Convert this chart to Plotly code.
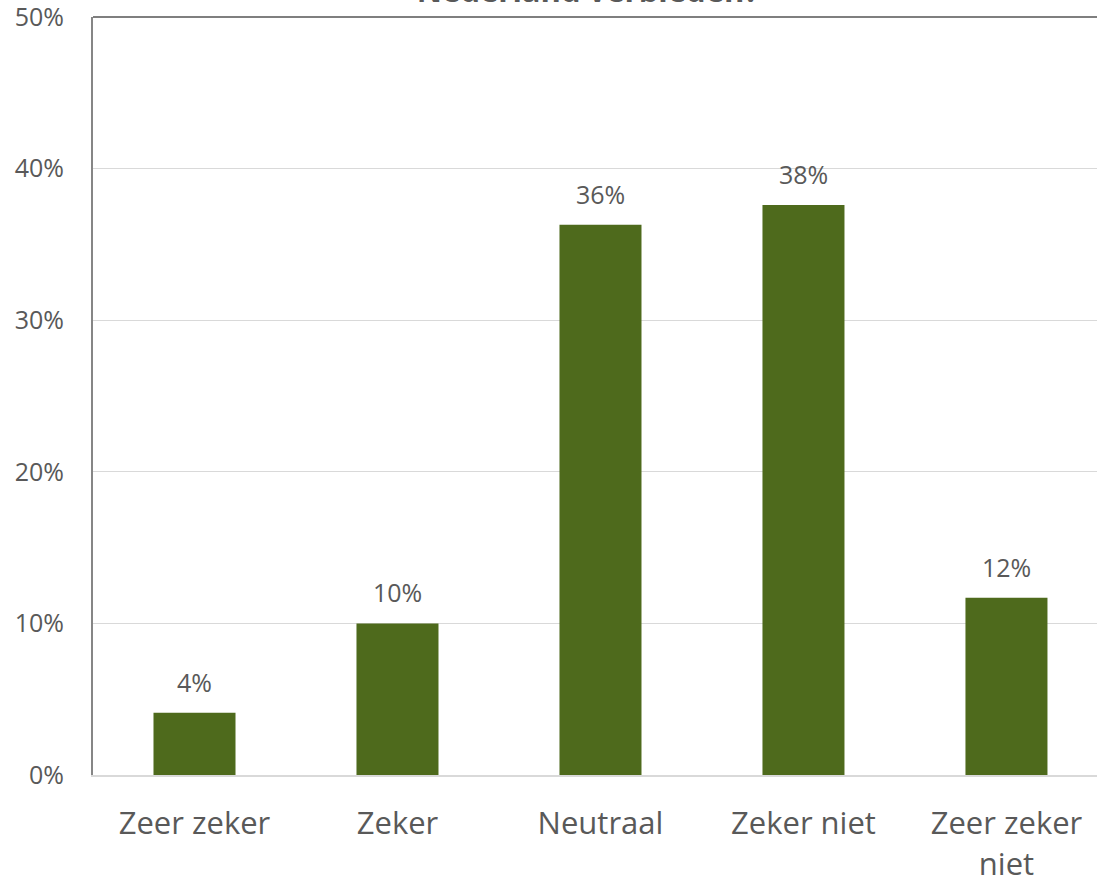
import plotly.graph_objects as go

categories = ["Zeer zeker", "Zeker", "Neutraal", "Zeker niet", "Zeer zeker<br>niet"]
shares = [0.041, 0.100, 0.363, 0.376, 0.117]
labels = ["4%", "10%", "36%", "38%", "12%"]
tick_vals = [0, 0.1, 0.2, 0.3, 0.4, 0.5]
tick_text = ["0%", "10%", "20%", "30%", "40%", "50%"]
title_text = "Nederland verbieden?"

FONT = "Open Sans"
GREY = "#595959"

fig = go.Figure()
fig.add_trace(go.Bar(
    x=list(range(len(categories))), y=shares,
    marker=dict(color="#4e6a1c", line=dict(width=0)),
    width=0.404,
))

# value labels above the bars
for i, (v, lab) in enumerate(zip(shares, labels)):
    fig.add_annotation(x=i, y=v, text=lab, showarrow=False,
                       yanchor="bottom", yshift=12,
                       font=dict(family=FONT, size=25, color=GREY))

fig.update_layout(
    width=1097, height=885,
    margin=dict(l=93, r=0, t=17, b=110),
    paper_bgcolor="white", plot_bgcolor="white",
    showlegend=False,
    title=dict(text="<b>" + title_text + "</b>", x=588 / 1097, xanchor="center",
               y=1 - 2 / 885, yanchor="bottom", yref="container",
               font=dict(family=FONT, size=31, color=GREY)),
    xaxis=dict(tickmode="array", tickvals=list(range(len(categories))), ticktext=categories,
               range=[-0.5, 4.446], showgrid=False, ticks="",
               showline=True, linecolor="#d9d9d9", linewidth=2,
               ticklabelstandoff=20, ticklabeloverflow="allow",
               tickfont=dict(family=FONT, size=31, color=GREY)),
    yaxis=dict(range=[0, 0.5], tickvals=tick_vals, ticktext=tick_text,
               showgrid=True, gridcolor="#d9d9d9", gridwidth=1,
               showline=True, linecolor="#868686", linewidth=2, mirror=False,
               zeroline=False, ticks="", ticklabelstandoff=22,
               ticklabeloverflow="allow",
               tickfont=dict(family=FONT, size=25, color=GREY)),
)
# dark frame line along the top of the plot area
fig.add_shape(type="line", xref="paper", yref="paper", x0=0, x1=1, y0=1, y1=1,
              line=dict(color="#7f7f7f", width=2))

fig.write_html("out.html", config={"displayModeBar": False},
               post_script="document.body.style.margin='0';")
